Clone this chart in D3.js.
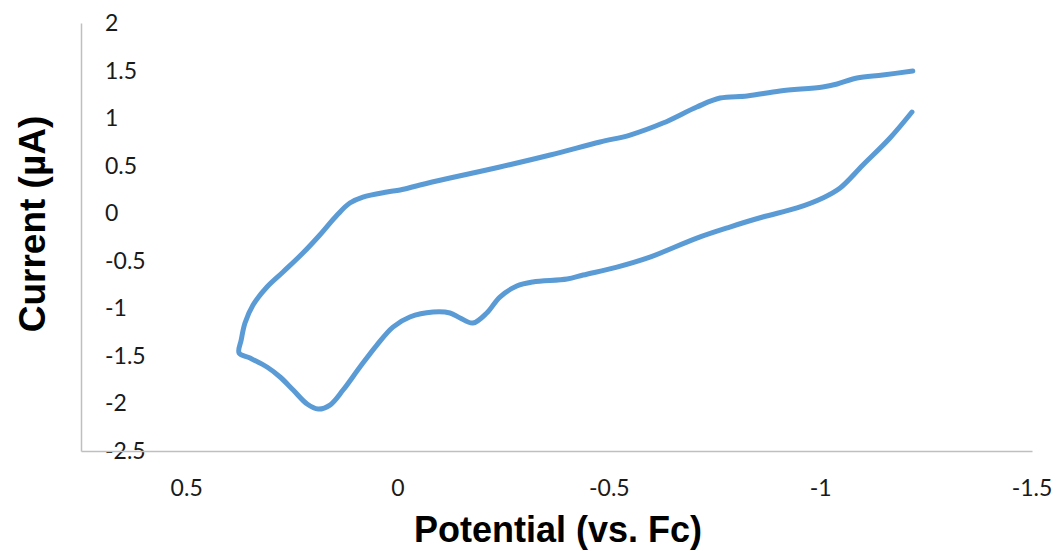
<!DOCTYPE html>
<html>
<head>
<meta charset="utf-8">
<script src="https://cdn.jsdelivr.net/npm/d3@7"></script>
<style>
  html, body { margin: 0; padding: 0; background: #fff; }
  svg { display: block; }
</style>
</head>
<body>
<svg id="chart" width="1057" height="551"></svg>
<script>
// Cyclic voltammogram: potential (V vs. Fc) and current (µA), in scan order
const potential = [
  -1.218, -1.147, -1.086, -1.039, -1.005, -0.904, -0.826, -0.762, -0.707, -0.627,
  -0.549, -0.478, -0.360, -0.241, -0.123, -0.052, -0.005, 0.026, 0.083, 0.114,
  0.144, 0.185, 0.225, 0.272, 0.310, 0.343, 0.362, 0.371, 0.376,
  0.350, 0.310, 0.279, 0.248, 0.215, 0.189, 0.161, 0.130, 0.090, 0.050,
  0.012, -0.028, -0.083, -0.123, -0.147, -0.177, -0.210, -0.241, -0.281, -0.319,
  -0.400, -0.438, -0.518, -0.596, -0.707, -0.785, -0.863, -0.944, -1.005, -1.046,
  -1.100, -1.164, -1.216
];
const current = [
  1.495, 1.453, 1.422, 1.359, 1.327, 1.285, 1.232, 1.211, 1.117, 0.948,
  0.822, 0.749, 0.612, 0.486, 0.370, 0.297, 0.244, 0.223, 0.170, 0.107,
  -0.019, -0.229, -0.419, -0.618, -0.776, -0.965, -1.155, -1.333, -1.470,
  -1.523, -1.617, -1.722, -1.859, -2.006, -2.059, -2.017, -1.859, -1.617, -1.386,
  -1.197, -1.091, -1.039, -1.049, -1.102, -1.155, -1.049, -0.881, -0.766, -0.723,
  -0.692, -0.650, -0.566, -0.461, -0.261, -0.145, -0.040, 0.055, 0.160, 0.265,
  0.507, 0.791, 1.064
];

const xTicks = [0.5, 0, -0.5, -1, -1.5];
const yTicks = [2, 1.5, 1, 0.5, 0, -0.5, -1, -1.5, -2, -2.5];

const xTitle = "Potential (vs. Fc)";
const yTitle = "Current (µA)";

const svg = d3.select("#chart");
const plotLeft = 81, plotRight = 1032, plotTop = 23, plotBottom = 451;

// Potential axis runs from positive (left) to negative (right)
const x = d3.scaleLinear().domain([0.75, -1.5]).range([plotLeft, plotRight]);
const y = d3.scaleLinear().domain([-2.5, 2]).range([plotBottom, plotTop]);

const axisColor = "#bfbfbf";
const tickFont = "Lato, 'Open Sans', sans-serif";
const fmt = d => String(d); // plain hyphen-minus labels

// Y axis line and labels
const yAxis = svg.append("g").attr("transform", `translate(${plotLeft},0)`)
  .call(d3.axisLeft(y).tickValues(yTicks).tickSize(0).tickFormat(""));
yAxis.select(".domain").attr("stroke", axisColor).attr("stroke-width", 1.5);

svg.append("g").selectAll("text").data(yTicks).join("text")
  .attr("x", 105)
  .attr("y", d => y(d))
  .attr("dy", "0.35em")
  .attr("text-anchor", "start")
  .attr("font-family", tickFont)
  .attr("font-size", 23)
  .attr("fill", "#1a1a1a")
  .text(fmt);

// X axis line and labels
const xAxis = svg.append("g").attr("transform", `translate(0,${plotBottom})`)
  .call(d3.axisBottom(x).tickValues(xTicks).tickSize(0).tickFormat(""));
xAxis.select(".domain").attr("stroke", axisColor).attr("stroke-width", 1.5);

svg.append("g").selectAll("text").data(xTicks).join("text")
  .attr("x", d => x(d))
  .attr("y", 488)
  .attr("dy", "0.35em")
  .attr("text-anchor", "middle")
  .attr("font-family", tickFont)
  .attr("font-size", 23)
  .attr("fill", "#1a1a1a")
  .text(fmt);

// Axis titles
svg.append("text")
  .attr("x", 558).attr("y", 542)
  .attr("text-anchor", "middle")
  .attr("font-family", "'Liberation Sans', Arial, sans-serif")
  .attr("font-weight", "bold")
  .attr("font-size", 36)
  .attr("fill", "#000")
  .text(xTitle);

svg.append("text")
  .attr("transform", "translate(45,224) rotate(-90)")
  .attr("text-anchor", "middle")
  .attr("font-family", "'Liberation Sans', Arial, sans-serif")
  .attr("font-weight", "bold")
  .attr("font-size", 37)
  .attr("fill", "#000")
  .text(yTitle);

// Voltammogram trace
const pts = potential.map((p, i) => [p, current[i]]);
const line = d3.line()
  .x(d => x(d[0]))
  .y(d => y(d[1]))
  .curve(d3.curveCatmullRom.alpha(0.5));

svg.append("path")
  .datum(pts)
  .attr("d", line)
  .attr("fill", "none")
  .attr("stroke", "#5b9bd5")
  .attr("stroke-width", 5)
  .attr("stroke-linecap", "round")
  .attr("stroke-linejoin", "round");
</script>
</body>
</html>
